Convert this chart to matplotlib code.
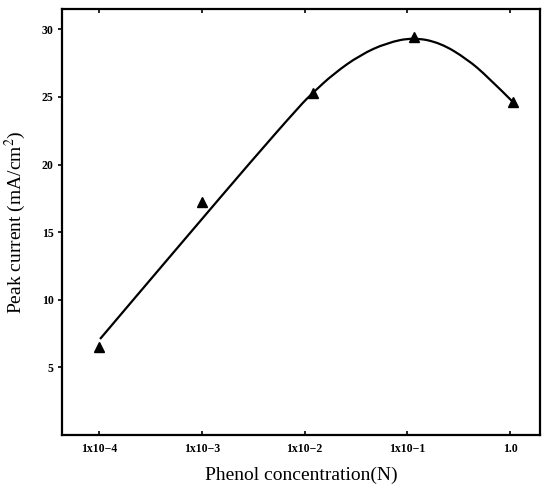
import numpy as np
import matplotlib.pyplot as plt
from matplotlib.path import Path
from matplotlib.patches import PathPatch

# data (x in log10 of concentration)
conc_log = [-4.0, -3.0, -1.92, -0.94, 0.03]
peak_current = [6.5, 17.2, 25.3, 29.4, 24.6]

# hand-drawn fitted curve, sampled along the line in the picture
curve_x = [-3.99, -3.6, -3.085, -2.53, -2.04, -1.92, -1.72, -1.46, -1.20,
           -0.94, -0.68, -0.42, -0.22, 0.03]
curve_y = [7.1, 10.6, 15.2, 20.15, 24.4, 25.3, 26.7, 28.1, 29.0,
           29.4, 29.0, 27.8, 26.5, 24.6]

tick_pos = [-4, -3, -2, -1, 0]
tick_labels = ["1x10\u22124", "1x10\u22123", "1x10\u22122", "1x10\u22121", "1.0"]
y_ticks = [5, 10, 15, 20, 25, 30]

plt.rcParams['font.family'] = ['Liberation Serif', 'DejaVu Serif']
plt.rcParams['mathtext.fontset'] = 'stix'

fig = plt.figure(figsize=(5.46, 4.94), dpi=100)
ax = fig.add_axes([0.1136, 0.1194, 0.8754, 0.8624])

# smooth the sampled curve: quadratic bezier through the midpoints
pts = list(zip(curve_x, curve_y))
verts = [pts[0]]
codes = [Path.MOVETO]
for i in range(1, len(pts) - 1):
    mid = ((pts[i][0] + pts[i + 1][0]) / 2, (pts[i][1] + pts[i + 1][1]) / 2)
    if i == len(pts) - 2:
        mid = pts[-1]
    verts += [pts[i], mid]
    codes += [Path.CURVE3, Path.CURVE3]
ax.add_patch(PathPatch(Path(verts, codes), facecolor='none',
                       edgecolor='black', linewidth=1.6))

ax.plot(conc_log, peak_current, linestyle='none', marker='^', color='black',
        markersize=6.5)

ax.set_xlim(-4.36, 0.29)
ax.set_ylim(0, 31.5)
ax.set_xticks(tick_pos)
ax.set_xticklabels(tick_labels, fontsize=8.5, fontweight='bold')
ax.set_yticks(y_ticks)
ax.set_yticklabels([str(v) for v in y_ticks], fontsize=8.5, fontweight='bold')

ax.tick_params(axis='x', direction='in', length=3, width=1.2, top=True, pad=6)
ax.tick_params(axis='y', direction='out', length=3, width=1.2, pad=3)

for s in ax.spines.values():
    s.set_linewidth(1.6)

ax.set_xlabel("Phenol concentration(N)", fontsize=14, labelpad=8)
ax.set_ylabel("Peak current (mA/cm$^2$)", fontsize=14, labelpad=10)

fig.savefig("out.png", dpi=100)
